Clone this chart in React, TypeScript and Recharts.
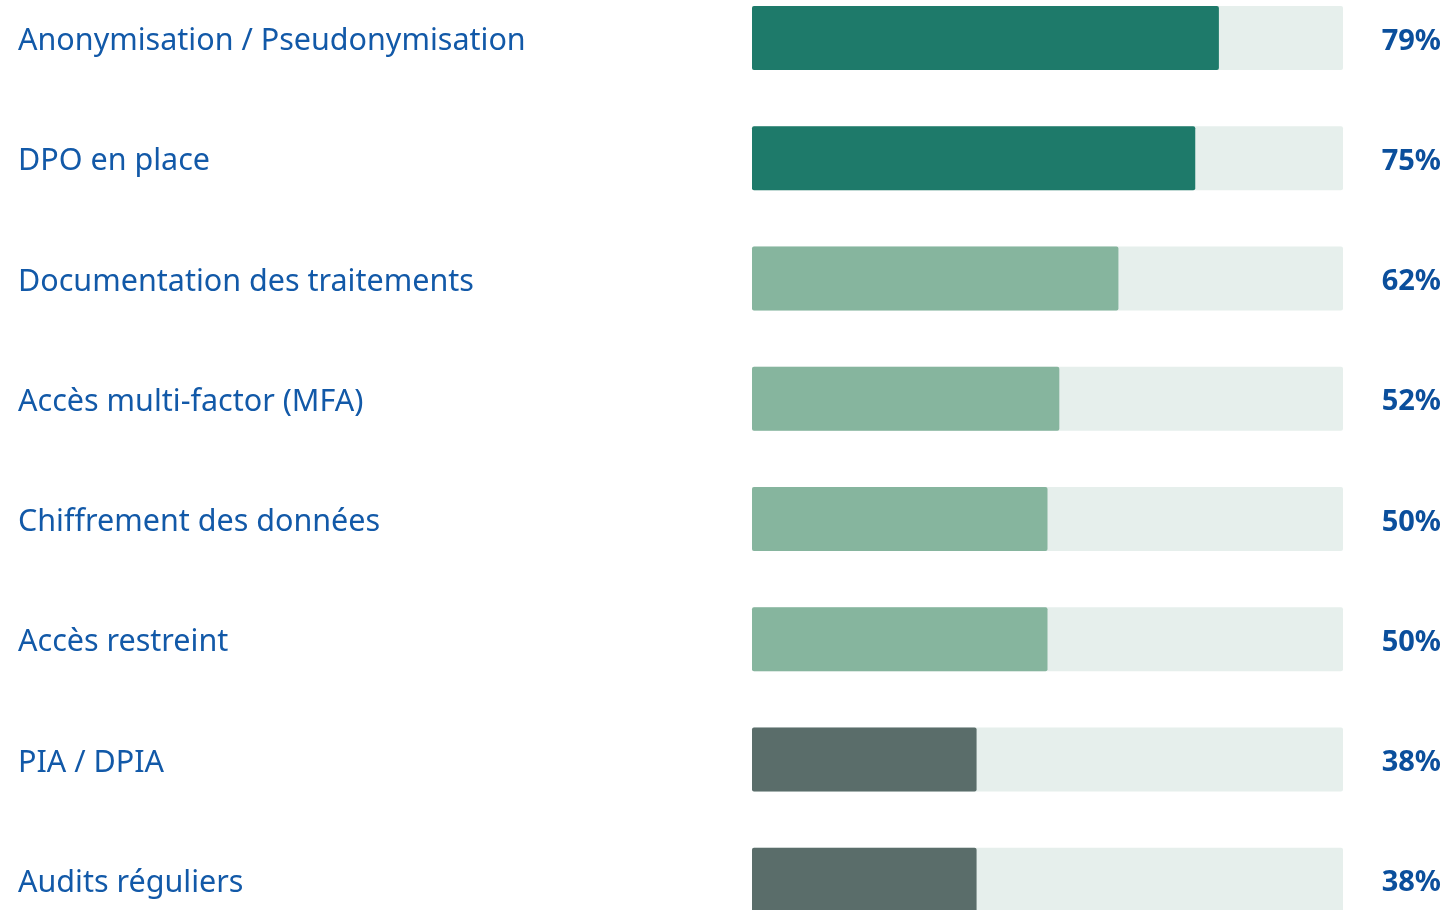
import React from "react";
import { BarChart, Bar, XAxis, YAxis, Cell } from "recharts";

const categories = [
  "Anonymisation / Pseudonymisation",
  "DPO en place",
  "Documentation des traitements",
  "Accès multi-factor (MFA)",
  "Chiffrement des données",
  "Accès restreint",
  "PIA / DPIA",
  "Audits réguliers",
];
const values = [79, 75, 62, 52, 50, 50, 38, 38];
const valueLabels = ["79%", "75%", "62%", "52%", "50%", "50%", "38%", "38%"];
const tiers = ["high", "high", "mid", "mid", "mid", "mid", "low", "low"];

const tierColors: Record<string, string> = {
  high: "#1e7a6a",
  mid: "#86b59e",
  low: "#5a6d6a",
};

const data = categories.map((c, i) => ({
  name: c,
  value: values[i],
  label: valueLabels[i],
  tier: tiers[i],
}));

const FONT = "'Noto Sans', 'Open Sans', sans-serif";

const LeftTick = (props: any) => {
  const { y, payload } = props;
  return (
    <text
      x={10}
      y={y}
      dominantBaseline="central"
      textAnchor="start"
      fill="#1259a8"
      fontFamily={FONT}
      fontSize={30.5}
    >
      {payload.value}
    </text>
  );
};

const RightTick = (props: any) => {
  const { x, y, payload } = props;
  return (
    <text
      x={x + 90}
      y={y}
      dominantBaseline="central"
      textAnchor="end"
      fill="#0b4f9c"
      fontFamily={FONT}
      fontWeight={700}
      fontSize={29}
    >
      {payload.value}
    </text>
  );
};

export default function App() {
  return (
    <div style={{ position: "fixed", top: -22, left: 8, width: 1437, height: 962 }}>
      <BarChart
        width={1437}
        height={962}
        data={data}
        layout="vertical"
        margin={{ top: 0, right: 0, bottom: 0, left: 0 }}
        barCategoryGap={0}
      >
        <XAxis type="number" domain={[0, 100]} hide />
        <YAxis
          yAxisId="left"
          type="category"
          dataKey="name"
          width={744}
          axisLine={false}
          tickLine={false}
          tick={<LeftTick />}
          interval={0}
        />
        <YAxis
          yAxisId="right"
          orientation="right"
          type="category"
          dataKey="label"
          width={102}
          axisLine={false}
          tickLine={false}
          tick={<RightTick />}
          interval={0}
        />
        <Bar
          yAxisId="left"
          dataKey="value"
          barSize={64}
          radius={2}
          background={{ fill: "#e6efec", radius: 2 } as any}
          isAnimationActive={false}
        >
          {data.map((d, i) => (
            <Cell key={i} fill={tierColors[d.tier]} />
          ))}
        </Bar>
      </BarChart>
    </div>
  );
}
